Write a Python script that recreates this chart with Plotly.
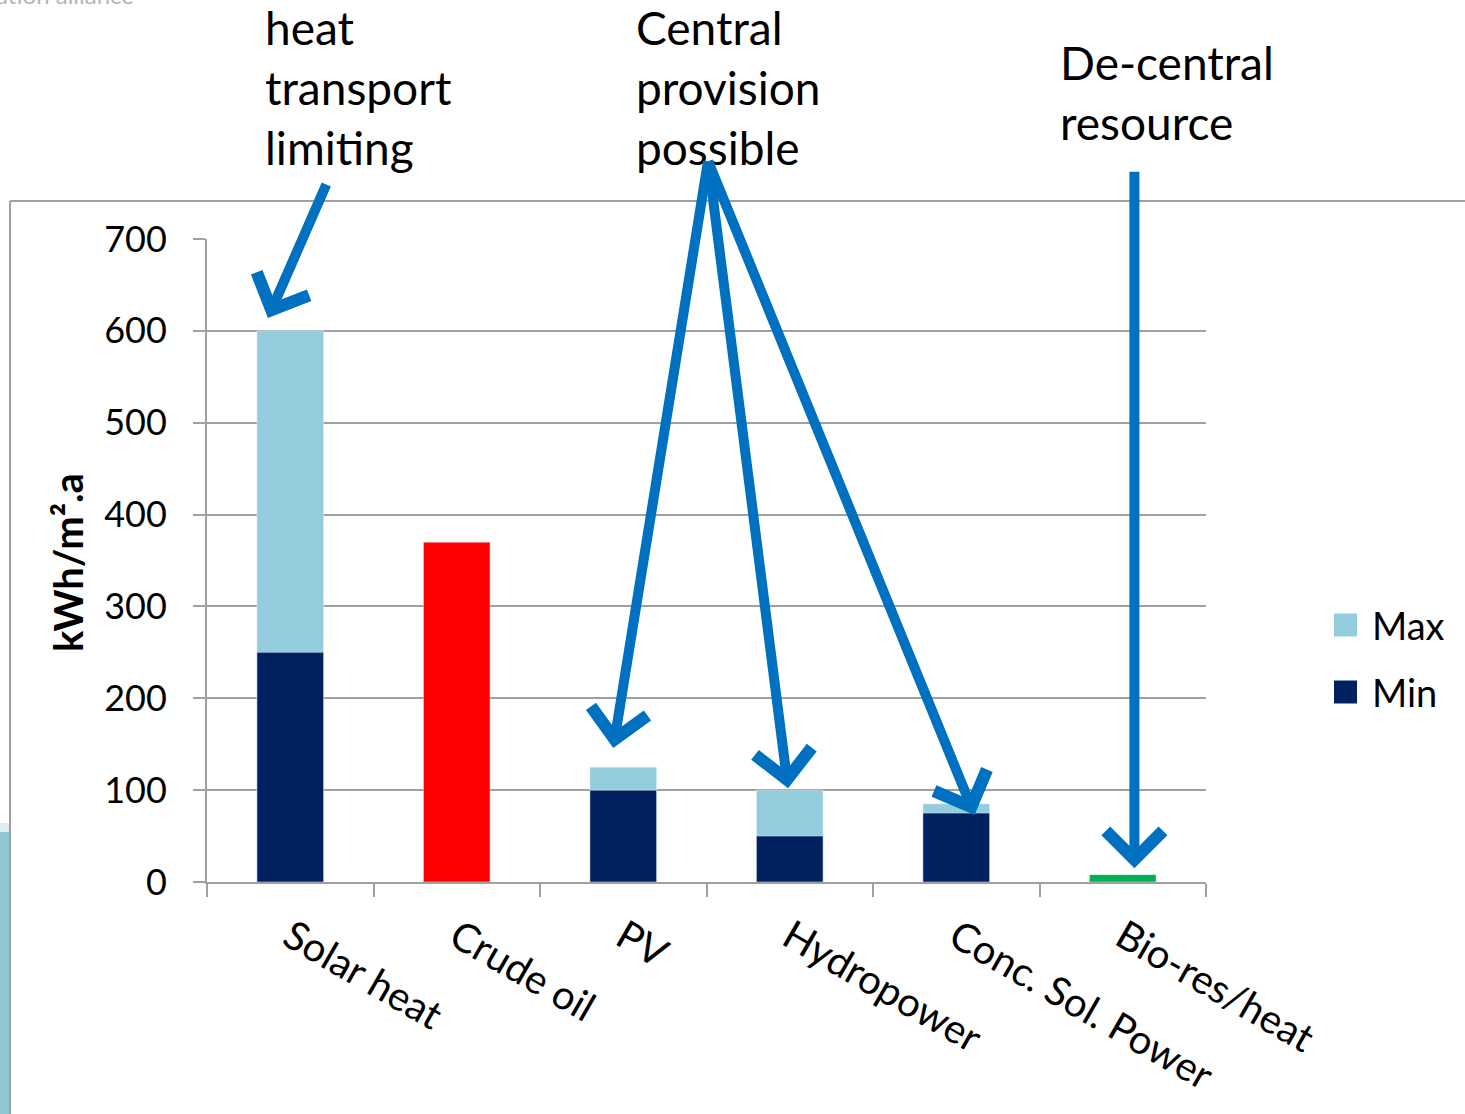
import plotly.graph_objects as go

# Energy yield per square metre and year, by resource
categories = ["Solar heat", "Crude oil", "PV", "Hydropower", "Conc. Sol. Power", "Bio-res/heat"]
max_vals = [600, None, 125, 100, 85, None]
min_vals = [250, None, 100, 50, 75, None]
crude_oil = [None, 370, None, None, None, None]
bio_res = [None, None, None, None, None, 8]
y_ticks = [0, 100, 200, 300, 400, 500, 600, 700]

W, H = 1465, 1114
L, R, T, B = 207, 259, 239, 232
PW, PH = W - L - R, H - T - B

def px(xp):
    return (xp - L) / PW

def py(yp):
    return (H - B - yp) / PH

FONT = "Lato, 'Open Sans', sans-serif"
C_MAX = "#93cddd"
C_MIN = "#002060"
C_ARROW = "#0070c0"
GRID = "#a0a0a0"

fig = go.Figure()
fig.add_bar(x=categories, y=max_vals, name="Max", marker_color=C_MAX, showlegend=False)
fig.add_bar(x=categories, y=min_vals, name="Min", marker_color=C_MIN, showlegend=False)
fig.add_bar(x=categories, y=crude_oil, name="Crude oil", marker_color="#ff0000", showlegend=False)
fig.add_bar(x=categories, y=bio_res, name="Bio-res/heat", marker_color="#00b050", showlegend=False)

fig.update_layout(
    width=W, height=H,
    margin=dict(l=L, r=R, t=T, b=B, pad=0, autoexpand=False),
    paper_bgcolor="white", plot_bgcolor="white",
    barmode="overlay", bargap=0.6,
    font=dict(family=FONT, color="black"),
)
fig.update_xaxes(
    automargin=False,
    categoryorder="array", categoryarray=categories,
    showline=True, linecolor=GRID, linewidth=2,
    ticks="outside", tickson="boundaries", ticklen=13, tickwidth=2, tickcolor=GRID,
    tickangle=30, tickfont=dict(size=40, family=FONT),
    ticklabelstandoff=14,
    showgrid=False, zeroline=False,
)
fig.update_yaxes(
    automargin=False,
    range=[0, 700], tickvals=y_ticks,
    showline=True, linecolor=GRID, linewidth=2,
    ticks="outside", ticklen=12, tickwidth=2, tickcolor=GRID,
    tickfont=dict(size=36, family=FONT), ticklabelstandoff=19,
    showgrid=True, gridcolor=GRID, gridwidth=2, zeroline=False,
)

shapes = []
# outer chart frame
shapes.append(dict(type="line", xref="paper", yref="paper", x0=px(10), x1=px(1470), y0=py(201), y1=py(201),
                   line=dict(color=GRID, width=2)))
shapes.append(dict(type="line", xref="paper", yref="paper", x0=px(10), x1=px(10), y0=py(201), y1=py(1120),
                   line=dict(color=GRID, width=2)))
# slide background strip on the left edge
shapes.append(dict(type="rect", xref="paper", yref="paper", x0=px(-2), x1=px(9), y0=py(823), y1=py(832),
                   fillcolor="#dbeef2", line=dict(width=0), layer="below"))
shapes.append(dict(type="rect", xref="paper", yref="paper", x0=px(-2), x1=px(9), y0=py(832), y1=py(1120),
                   fillcolor="#8fc7d1", line=dict(width=0), layer="below"))

# custom legend
legend_items = [("Max", C_MAX, 625), ("Min", C_MIN, 692)]
annotations = []
for name, col, yc in legend_items:
    shapes.append(dict(type="rect", xref="paper", yref="paper", x0=px(1334), x1=px(1357),
                       y0=py(yc - 11.5), y1=py(yc + 11.5), fillcolor=col, line=dict(width=0)))
    annotations.append(dict(text=name, xref="paper", yref="paper", x=px(1370), y=py(yc),
                            xanchor="left", yanchor="middle", showarrow=False,
                            font=dict(size=38, family=FONT, color="black")))

# y-axis title
annotations.append(dict(text="<b>kWh/m².a</b>", xref="paper", yref="paper", x=px(68), y=py(563),
                        xanchor="center", yanchor="middle", textangle=-90, showarrow=False,
                        font=dict(size=40, family=FONT, color="black")))

# call-out texts
callouts = [
    ("heat<br>transport<br>limiting", 263, 87),
    ("Central<br>provision<br>possible", 634, 87),
    ("De-central<br>resource", 1058, 92),
]
for txt, xl, yc in callouts:
    annotations.append(dict(text=txt, xref="paper", yref="paper", x=px(xl), y=py(yc),
                            xanchor="left", yanchor="middle", align="left", showarrow=False,
                            font=dict(size=46, family=FONT, color="black")))

# header fragment at the top-left
annotations.append(dict(text="ation alliance", xref="paper", yref="paper", x=px(-6), y=py(-6),
                        xanchor="left", yanchor="middle", showarrow=False,
                        font=dict(size=24, family=FONT, color="#b4b4b4")))

# arrows: tip in data space, tail as pixel offset
arrows = [
    (-0.134, 614, 59, -135),
    (1.94, 146, 95, -588),
    (2.99, 102, -80, -628),
    (4.11, 73, -267, -655),
    (5.07, 15, 0, -698),
]
for x, y, ax, ay in arrows:
    annotations.append(dict(x=x, y=y, xref="x", yref="y", ax=ax, ay=ay, axref="pixel", ayref="pixel",
                            text="", showarrow=True, arrowhead=4, arrowsize=1.1, arrowwidth=10,
                            arrowcolor=C_ARROW, standoff=0))

fig.update_layout(shapes=shapes, annotations=annotations)
fig.write_html("out.html")
